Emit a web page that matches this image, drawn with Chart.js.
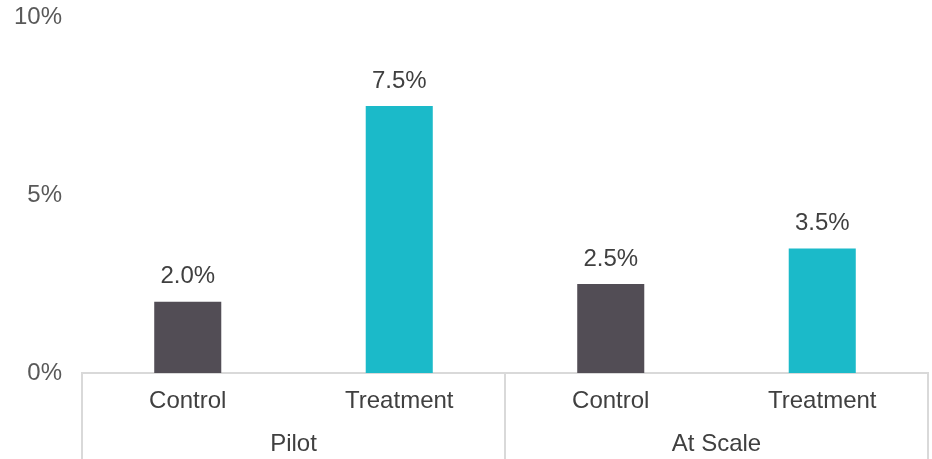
<!DOCTYPE html>
<html>
<head>
<meta charset="utf-8">
<script src="https://cdn.jsdelivr.net/npm/chart.js@4"></script>
<style>
html,body{margin:0;padding:0;background:#fff;}
#wrap{width:932px;height:459px;position:relative;}
</style>
</head>
<body>
<div id="wrap"><canvas id="c" width="932" height="459"></canvas></div>
<script>
const categories = ["Control", "Treatment", "Control", "Treatment"];
const groups = ["Pilot", "At Scale"];
const groupSizes = [2, 2];
const values = [2.0, 7.5, 2.5, 3.5];
const barColors = ["#524D55", "#1BBAC9", "#524D55", "#1BBAC9"];
const yTicks = [0, 5, 10];

const FONT = "'Liberation Sans', Arial, sans-serif";
const FS = 24;

const extras = {
  id: 'extras',
  afterDatasetsDraw(chart) {
    const ctx = chart.ctx;
    const meta = chart.getDatasetMeta(0);
    ctx.save();
    ctx.font = FS + "px " + FONT;
    ctx.fillStyle = "#404040";
    ctx.textAlign = "center";
    ctx.textBaseline = "middle";
    meta.data.forEach((bar, i) => {
      ctx.fillText(values[i].toFixed(1) + "%", bar.x, bar.y - 25);
    });
    ctx.restore();
  },
  afterDraw(chart) {
    const ctx = chart.ctx;
    const area = chart.chartArea;
    const step = (area.right - area.left) / categories.length;
    ctx.save();
    ctx.strokeStyle = "#D9D9D9";
    ctx.lineWidth = 2;
    let idx = 0;
    const bounds = [area.left];
    groupSizes.forEach(s => { idx += s; bounds.push(area.left + step * idx); });
    bounds.forEach(b => {
      ctx.beginPath();
      ctx.moveTo(b, area.bottom);
      ctx.lineTo(b, chart.height);
      ctx.stroke();
    });
    ctx.font = FS + "px " + FONT;
    ctx.fillStyle = "#404040";
    ctx.textAlign = "center";
    ctx.textBaseline = "middle";
    groups.forEach((g, i) => {
      ctx.fillText(g, (bounds[i] + bounds[i + 1]) / 2, area.bottom + 71);
    });
    ctx.restore();
  }
};

new Chart(document.getElementById('c'), {
  type: 'bar',
  data: {
    labels: categories,
    datasets: [{
      data: values,
      backgroundColor: barColors,
      barPercentage: 0.317,
      categoryPercentage: 1.0
    }]
  },
  options: {
    responsive: false,
    animation: false,
    layout: { padding: { top: 17, right: 4, left: 0, bottom: 0 } },
    plugins: { legend: { display: false }, tooltip: { enabled: false } },
    scales: {
      x: {
        grid: { display: false, drawTicks: false },
        border: { display: true, color: "#D9D9D9", width: 2 },
        ticks: { color: "#404040", font: { family: FONT, size: FS }, padding: 14, maxRotation: 0 },
        afterFit(s) { s.height = 86; s.paddingLeft = 0; s.paddingRight = 0; }
      },
      y: {
        min: 0, max: 10,
        afterBuildTicks(s) { s.ticks = yTicks.map(v => ({ value: v })); },
        grid: { display: false, drawTicks: false },
        border: { display: false },
        ticks: { color: "#595959", font: { family: FONT, size: FS }, padding: 20, callback: v => v + "%" },
        afterFit(s) { s.width = 82; s.paddingTop = 0; s.paddingBottom = 0; }
      }
    }
  },
  plugins: [extras]
});
</script>
</body>
</html>
